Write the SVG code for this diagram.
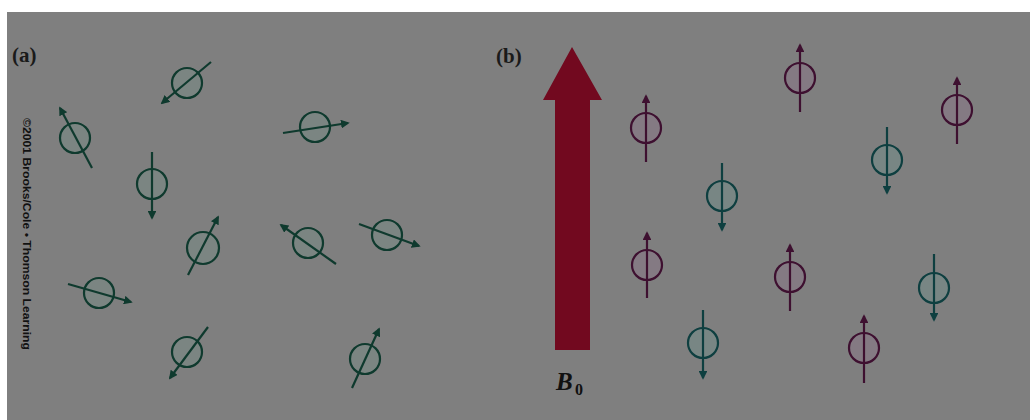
<svg xmlns="http://www.w3.org/2000/svg" width="1030" height="420" viewBox="0 0 1030 420">
<defs>
<style>
.ga circle{fill:#7b8582;stroke:#0f3a2e;stroke-width:2.2}
.ga line{stroke:#0f3a2e;stroke-width:2.2;marker-end:url(#ag)}
.up circle{fill:#847a83;stroke:#3e1030;stroke-width:2.2}
.up line{stroke:#3e1030;stroke-width:2.2;marker-end:url(#am)}
.dn circle{fill:#788684;stroke:#0e3f40;stroke-width:2.2}
.dn line{stroke:#0e3f40;stroke-width:2.2;marker-end:url(#at)}
.lbl{font-family:"Liberation Serif",serif;font-size:21px;font-weight:bold;fill:#1a1a1a}
</style>
<marker id="ag" viewBox="0 0 10 10" refX="8" refY="5" markerWidth="4" markerHeight="4" orient="auto" markerUnits="strokeWidth"><path d="M0,0L10,5L0,10z" fill="#0f3a2e"/></marker>
<marker id="am" viewBox="0 0 10 10" refX="8" refY="5" markerWidth="4" markerHeight="4" orient="auto" markerUnits="strokeWidth"><path d="M0,0L10,5L0,10z" fill="#3e1030"/></marker>
<marker id="at" viewBox="0 0 10 10" refX="8" refY="5" markerWidth="4" markerHeight="4" orient="auto" markerUnits="strokeWidth"><path d="M0,0L10,5L0,10z" fill="#0e3f40"/></marker>
</defs>
<rect x="0" y="0" width="1030" height="420" fill="#ffffff"/>
<rect x="7" y="12" width="1023" height="408" fill="#7f7f7f"/>
<text class="lbl" x="12" y="62">(a)</text>
<text class="lbl" x="496" y="63">(b)</text>
<text x="23" y="118" transform="rotate(90 23 118)" font-family="Liberation Sans,Arial,sans-serif" font-weight="bold" font-size="10.5" fill="#111" textLength="232" lengthAdjust="spacingAndGlyphs">©2001 Brooks/Cole • Thomson Learning</text>
<g id="a1" class="ga"><circle cx="187" cy="83" r="15"/><line x1="211" y1="62" x2="162" y2="103"/></g>
<g id="a2" class="ga"><circle cx="75" cy="138" r="15"/><line x1="92" y1="168" x2="60" y2="108"/></g>
<g id="a3" class="ga"><circle cx="152" cy="184" r="15"/><line x1="152" y1="152" x2="152" y2="218"/></g>
<g id="a4" class="ga"><circle cx="315" cy="127" r="15"/><line x1="283" y1="133" x2="348" y2="123"/></g>
<g id="a5" class="ga"><circle cx="203" cy="248" r="16"/><line x1="188" y1="275" x2="218" y2="217"/></g>
<g id="a6" class="ga"><circle cx="308" cy="243" r="15"/><line x1="336" y1="264" x2="281" y2="225"/></g>
<g id="a7" class="ga"><circle cx="387" cy="235" r="15"/><line x1="359" y1="224" x2="419" y2="246"/></g>
<g id="a8" class="ga"><circle cx="99" cy="293" r="15"/><line x1="68" y1="284" x2="131" y2="302"/></g>
<g id="a9" class="ga"><circle cx="187" cy="352" r="15"/><line x1="208" y1="327" x2="170" y2="378"/></g>
<g id="a10" class="ga"><circle cx="365" cy="359" r="15"/><line x1="352" y1="388" x2="379" y2="329"/></g>
<g id="b0">
<path d="M572,47 L602,100 L590,100 L590,350 L555,350 L555,100 L543,100 Z" fill="#72091f"/>
<text x="556" y="390" font-family="Liberation Serif,serif" font-weight="bold" font-style="italic" font-size="25" fill="#111">B</text>
<text x="575" y="395" font-family="Liberation Serif,serif" font-weight="bold" font-size="16" fill="#111">0</text>
</g>
<g id="b1" class="up"><circle cx="646" cy="128" r="15"/><line x1="646" y1="162" x2="646" y2="96"/></g>
<g id="b2" class="up"><circle cx="800" cy="78" r="15"/><line x1="800" y1="112" x2="800" y2="45"/></g>
<g id="b3" class="up"><circle cx="957" cy="110" r="15"/><line x1="957" y1="144" x2="957" y2="78"/></g>
<g id="b4" class="dn"><circle cx="887" cy="160" r="15"/><line x1="887" y1="127" x2="887" y2="193"/></g>
<g id="b5" class="dn"><circle cx="722" cy="196" r="15"/><line x1="722" y1="163" x2="722" y2="230"/></g>
<g id="b6" class="up"><circle cx="647" cy="265" r="15"/><line x1="647" y1="298" x2="647" y2="233"/></g>
<g id="b7" class="up"><circle cx="790" cy="277" r="15"/><line x1="790" y1="311" x2="790" y2="245"/></g>
<g id="b8" class="dn"><circle cx="934" cy="288" r="15"/><line x1="934" y1="254" x2="934" y2="320"/></g>
<g id="b9" class="dn"><circle cx="703" cy="343" r="15"/><line x1="703" y1="310" x2="703" y2="378"/></g>
<g id="b10" class="up"><circle cx="864" cy="348" r="15"/><line x1="864" y1="383" x2="864" y2="316"/></g>
</svg>
